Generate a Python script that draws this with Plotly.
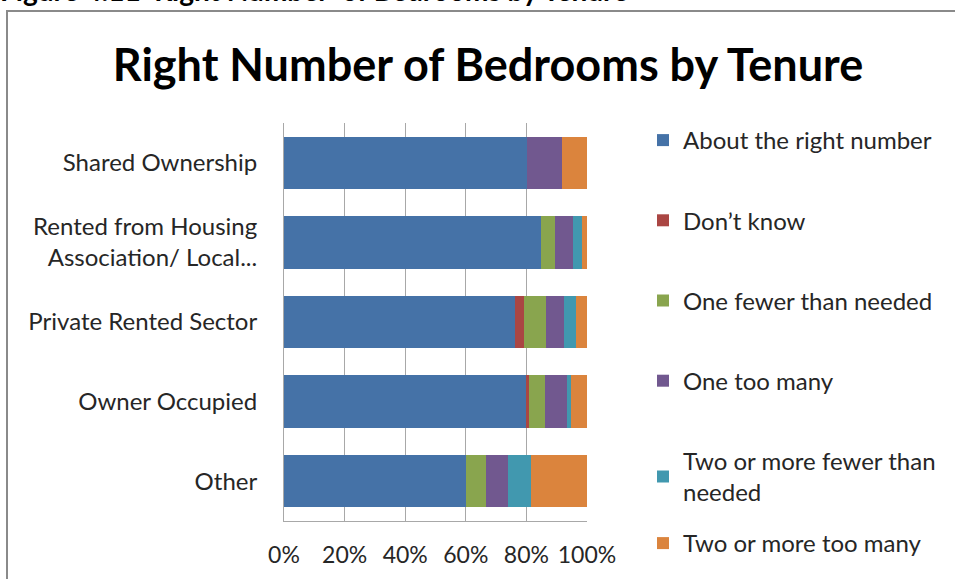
import plotly.graph_objects as go

categories = ["Shared Ownership", "Rented from Housing<br>Association/ Local...",
              "Private Rented Sector", "Owner Occupied", "Other"]
series_names = ["About the right number", "Don\u2019t know", "One fewer than needed",
                "One too many", "Two or more fewer than<br>needed", "Two or more too many"]
about_right = [80.2, 84.8, 76.4, 79.8, 59.9]
dont_know = [0.0, 0.0, 2.9, 1.2, 0.0]
one_fewer = [0.0, 4.7, 7.3, 5.1, 6.8]
one_too_many = [11.4, 5.9, 5.9, 7.3, 7.2]
two_fewer = [0.0, 3.0, 3.9, 1.2, 7.6]
two_too_many = [8.4, 1.6, 3.6, 5.4, 18.5]
colors = ["#4572A7", "#AA4643", "#89A54E", "#71588F", "#4198AF", "#DB843D"]
x_ticks = [0, 20, 40, 60, 80, 100]
x_tick_labels = ["0%", "20%", "40%", "60%", "80%", "100%"]

series_values = [about_right, dont_know, one_fewer, one_too_many, two_fewer, two_too_many]

FONT = "Lato, 'Open Sans', sans-serif"

fig = go.Figure()
for i, (name, vals) in enumerate(zip(series_names, series_values)):
    fig.add_trace(go.Bar(
        y=categories, x=vals, name=name, orientation="h",
        marker=dict(color=colors[i], line=dict(width=0)),
        legendgroup=f"g{i}", hoverinfo="x+name",
        legend="legend2" if i == len(series_names) - 1 else "legend",
    ))

W, H = 955, 579
L, R, T, B = 284, 368, 123, 58
pw, ph = W - L - R, H - T - B

def px_x(p):
    return (p - L) / pw

def px_y(p):
    return (H - B - p) / ph

legend_style = dict(xanchor="left", yanchor="top", tracegroupgap=46, maxheight=900,
                    font=dict(size=24, color="#262626"), bgcolor="rgba(0,0,0,0)",
                    itemclick=False, itemdoubleclick=False)

fig.update_layout(
    width=W, height=H,
    margin=dict(l=L, r=R, t=T, b=B, autoexpand=False),
    barmode="stack", bargap=0.34,
    plot_bgcolor="white", paper_bgcolor="white",
    font=dict(family=FONT, size=24, color="#262626"),
    title=dict(text="<b>Right Number of Bedrooms by Tenure</b>",
               font=dict(family=FONT, size=45, color="black"),
               x=488 / W, xanchor="center", xref="container",
               y=1 - 65 / H, yanchor="middle", yref="container"),
    xaxis=dict(range=[0, 100], tickvals=x_ticks, ticktext=x_tick_labels,
               showgrid=True, gridcolor="#a8a8a8", gridwidth=1,
               showline=True, linecolor="#a8a8a8", linewidth=1, mirror=False,
               zeroline=False, ticks="", ticklabelstandoff=13,
               tickfont=dict(size=23, color="#262626"), fixedrange=True),
    yaxis=dict(autorange="reversed", showline=True, linecolor="#a8a8a8", linewidth=1,
               ticks="", ticklabelstandoff=21, tickfont=dict(size=24, color="#262626"),
               showgrid=False, fixedrange=True),
    legend=dict(x=px_x(643), y=px_y(118), **legend_style),
    legend2=dict(x=px_x(643), y=px_y(521), **legend_style),
    showlegend=True,
)

# caption partly above the page and the chart border
fig.add_annotation(text="<b>Figure 4.11  Right Number  of Bedrooms by Tenure</b>",
                   xref="paper", yref="paper", x=px_x(-2), y=px_y(9),
                   xanchor="left", yanchor="bottom", showarrow=False,
                   font=dict(family=FONT, size=28, color="black"))
fig.add_shape(type="rect", xref="paper", yref="paper",
              x0=px_x(7), x1=px_x(1000), y0=px_y(700), y1=px_y(11),
              line=dict(color="#8a8a8a", width=2), fillcolor="rgba(0,0,0,0)", layer="below")

fig.write_html("out.html", config={"displayModeBar": False},
               post_script="document.body.style.margin='0';")
